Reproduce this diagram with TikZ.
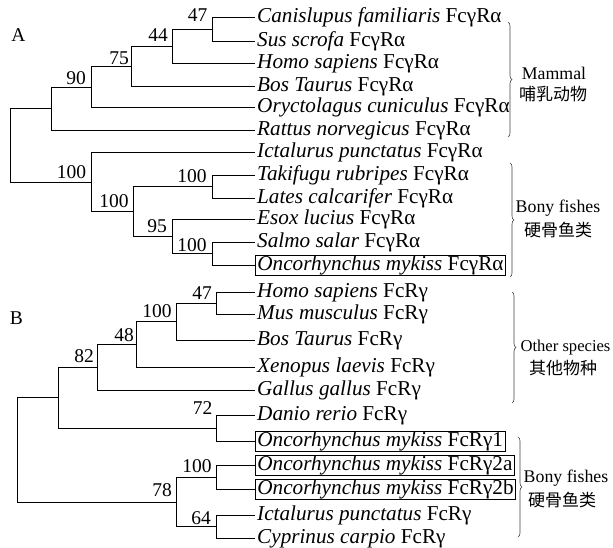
\documentclass[tikz,border=0pt]{standalone}
\usepackage{fontspec}
\setmainfont{Liberation Serif}
\newfontfamily\cjk{Noto Sans CJK SC}
\usetikzlibrary{decorations.pathreplacing}
\begin{document}
\begin{tikzpicture}[x=1pt,y=-1pt,
  leaf/.style={anchor=west, inner xsep=2pt, inner ysep=0.4pt, text height=14.6pt, text depth=4.5pt, font=\fontsize{21.2}{23}\selectfont},
  boxleaf/.style={leaf, draw, line width=0.7pt},
  br/.style={line width=0.8pt},
  bs/.style={font=\fontsize{19.5}{22}\selectfont, inner sep=0pt},
  grp/.style={font=\fontsize{17.8}{20}\selectfont, inner sep=0pt},
  grpc/.style={font=\cjk\fontsize{17}{20}\selectfont, inner sep=0pt},
  bracegrp/.style={decorate, decoration={brace, amplitude=4pt}, line width=0.6pt, black!75}
]
\useasboundingbox (0,0) rectangle (613,547);

% ---------------- Tree A ----------------
\node[bs] (labA) at (18.5,35) {A};
\node[leaf] (a1) at (255,17.3) {\textit{Canislupus familiaris} FcγRα};
\node[leaf] (a2) at (255,41) {\textit{Sus scrofa} FcγRα};
\node[leaf] (a3) at (255,63.3) {\textit{Homo sapiens} FcγRα};
\node[leaf] (a4) at (255,86) {\textit{Bos Taurus} FcγRα};
\node[leaf] (a5) at (255,107.7) {\textit{Oryctolagus cuniculus} FcγRα};
\node[leaf] (a6) at (255,130) {\textit{Rattus norvegicus} FcγRα};
\node[leaf] (a7) at (255,152.3) {\textit{Ictalurus punctatus} FcγRα};
\node[leaf] (a8) at (255,175) {\textit{Takifugu rubripes} FcγRα};
\node[leaf] (a9) at (255,198.7) {\textit{Lates calcarifer} FcγRα};
\node[leaf] (a10) at (255,219.7) {\textit{Esox lucius} FcγRα};
\node[leaf] (a11) at (255,242.3) {\textit{Salmo salar} FcγRα};
\node[boxleaf] (a12) at (255,265) {\textit{Oncorhynchus mykiss} FcγRα};

\coordinate (n47) at (212.7,29.15);
\coordinate (n44) at (172,46.2);
\coordinate (n75) at (131.7,66.1);
\coordinate (n90) at (91.7,86.9);
\coordinate (nM) at (51,108.45);
\coordinate (nT) at (212.7,186.85);
\coordinate (nS) at (212.7,253.65);
\coordinate (n95) at (172,236.7);
\coordinate (nF2) at (133.3,211.8);
\coordinate (nF) at (91.7,182.05);
\coordinate (rA) at (10,145.25);

\draw[br] (n47) |- (a1.west);
\draw[br] (n47) |- (a2.west);
\draw[br] (n44) |- (n47);
\draw[br] (n44) |- (a3.west);
\draw[br] (n75) |- (n44);
\draw[br] (n75) |- (a4.west);
\draw[br] (n90) |- (n75);
\draw[br] (n90) |- (a5.west);
\draw[br] (nM) |- (n90);
\draw[br] (nM) |- (a6.west);
\draw[br] (nT) |- (a8.west);
\draw[br] (nT) |- (a9.west);
\draw[br] (nS) |- (a11.west);
\draw[br] (nS) |- (a12.west);
\draw[br] (n95) |- (a10.west);
\draw[br] (n95) |- (nS);
\draw[br] (nF2) |- (nT);
\draw[br] (nF2) |- (n95);
\draw[br] (nF) |- (a7.west);
\draw[br] (nF) |- (nF2);
\draw[br] (rA) |- (nM);
\draw[br] (rA) |- (nF);

\node[bs] (b47) at (197.5,15) {47};
\node[bs] (b44) at (158,35.5) {44};
\node[bs] (b75) at (119,58) {75};
\node[bs] (b90) at (76,78) {90};
\node[bs] (bF) at (71.5,172) {100};
\node[bs] (bF2) at (114,201.5) {100};
\node[bs] (bT) at (192,176.5) {100};
\node[bs] (b95) at (157,226.5) {95};
\node[bs] (bS) at (192,245) {100};

\coordinate (brA1t) at (508,22);
\coordinate (brA1b) at (508,137);
\draw[bracegrp] (brA1t) -- (brA1b);
\node[grp] (gA1) at (554,73) {Mammal};
\node[grpc] (gA1c) at (553,94) {哺乳动物};

\coordinate (brA2t) at (510,163);
\coordinate (brA2b) at (510,277);
\draw[bracegrp] (brA2t) -- (brA2b);
\node[grp] (gA2) at (558,208) {Bony fishes};
\node[grpc] (gA2c) at (558,230) {硬骨鱼类};

% ---------------- Tree B ----------------
\node[bs] (labB) at (16.5,318.5) {B};
\node[leaf] (b1) at (255,292) {\textit{Homo sapiens} FcRγ};
\node[leaf] (b2) at (255,314.7) {\textit{Mus musculus} FcRγ};
\node[leaf] (b3) at (255,340.3) {\textit{Bos Taurus} FcRγ};
\node[leaf] (b4) at (255,367) {\textit{Xenopus laevis} FcRγ};
\node[leaf] (b5) at (255,390.3) {\textit{Gallus gallus} FcRγ};
\node[leaf] (b6) at (255,415.7) {\textit{Danio rerio} FcRγ};
\node[boxleaf] (b7) at (255,441) {\textit{Oncorhynchus mykiss} FcRγ1};
\node[boxleaf] (b8) at (255,465) {\textit{Oncorhynchus mykiss} FcRγ2a};
\node[boxleaf] (b9) at (255,489.3) {\textit{Oncorhynchus mykiss} FcRγ2b};
\node[leaf] (b10) at (255,515) {\textit{Ictalurus punctatus} FcRγ};
\node[leaf] (b11) at (255,538.3) {\textit{Cyprinus carpio} FcRγ};

\coordinate (m47) at (216,303.35);
\coordinate (m100) at (176.7,321.8);
\coordinate (m48) at (136.7,344.4);
\coordinate (m82) at (97.3,367.35);
\coordinate (m72) at (216,428.35);
\coordinate (mO) at (58.3,397.85);
\coordinate (m100b) at (216,477.15);
\coordinate (m64) at (216,526.65);
\coordinate (m78) at (176.7,501.9);
\coordinate (rB) at (17.3,449.9);

\draw[br] (m47) |- (b1.west);
\draw[br] (m47) |- (b2.west);
\draw[br] (m100) |- (m47);
\draw[br] (m100) |- (b3.west);
\draw[br] (m48) |- (m100);
\draw[br] (m48) |- (b4.west);
\draw[br] (m82) |- (m48);
\draw[br] (m82) |- (b5.west);
\draw[br] (m72) |- (b6.west);
\draw[br] (m72) |- (b7.west);
\draw[br] (mO) |- (m82);
\draw[br] (mO) |- (m72);
\draw[br] (m100b) |- (b8.west);
\draw[br] (m100b) |- (b9.west);
\draw[br] (m64) |- (b10.west);
\draw[br] (m64) |- (b11.west);
\draw[br] (m78) |- (m100b);
\draw[br] (m78) |- (m64);
\draw[br] (rB) |- (mO);
\draw[br] (rB) |- (m78);

\node[bs] (c47) at (202,293.5) {47};
\node[bs] (c100) at (157,311.5) {100};
\node[bs] (c48) at (124,335) {48};
\node[bs] (c82) at (84,356.5) {82};
\node[bs] (c72) at (202.5,408.5) {72};
\node[bs] (c100b) at (197,466.5) {100};
\node[bs] (c78) at (162,490.5) {78};
\node[bs] (c64) at (201,518.5) {64};

\coordinate (brB1t) at (512,292);
\coordinate (brB1b) at (512,403);
\draw[bracegrp] (brB1t) -- (brB1b);
\node[grp, font=\fontsize{16.6}{20}\selectfont] (gB1) at (565.5,348) {Other species};
\node[grpc] (gB1c) at (563,368) {其他物种};

\coordinate (brB2t) at (518,437);
\coordinate (brB2b) at (518,537);
\draw[bracegrp] (brB2t) -- (brB2b);
\node[grp] (gB2) at (566,478) {Bony fishes};
\node[grpc] (gB2c) at (562,500) {硬骨鱼类};
\end{tikzpicture}
\end{document}
